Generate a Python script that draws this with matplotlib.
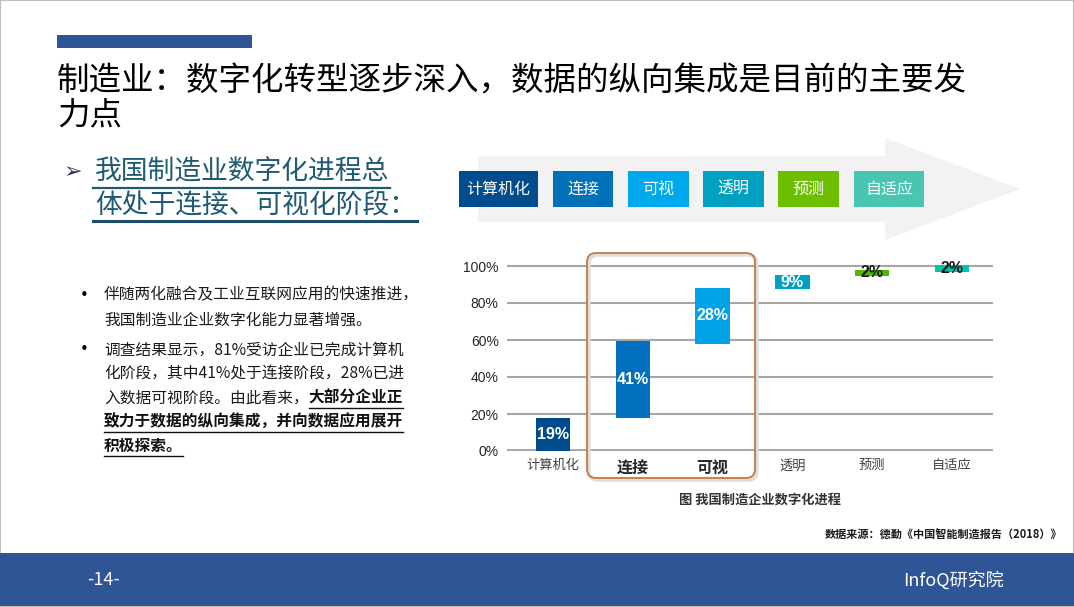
import matplotlib
matplotlib.use('Agg')
import matplotlib.pyplot as plt
from matplotlib.patches import Rectangle, FancyBboxPatch, Polygon
from matplotlib.lines import Line2D

plt.rcParams['font.family'] = ['Noto Sans CJK SC', 'DejaVu Sans']

# data
stages = ['计算机化', '连接', '可视', '透明', '预测', '自适应']
pct_labels = [19, 41, 28, 9, 2, 2]
bar_bottom = [0, 17.8, 58.0, 87.5, 94.6, 97.0]
bar_top = [17.8, 59.5, 88.0, 95.0, 98.0, 100.5]
yticks = [0, 20, 40, 60, 80, 100]
box_colors = ['#004C8C', '#0070B8', '#00A8EC', '#00A0C0', '#6BBF00', '#4AC5B1']
bar_colors = ['#004B8C', '#0070BF', '#00A3E8', '#00A0C3', '#4CB800', '#00C5A9']
label_colors = ['white', 'white', 'white', 'white', '#1a1a1a', '#1a1a1a']
highlight = ['连接', '可视']

W, H = 1074, 607
fig = plt.figure(figsize=(W / 100, H / 100), dpi=100)
fig.patch.set_facecolor('white')


def fx(x):
    return x / W


def fy(y):
    return 1 - y / H


# slide border
fig.patches.append(Rectangle((0, 0), 1, 1, transform=fig.transFigure, fill=False,
                             edgecolor='#BFBFBF', linewidth=1.5))

# top accent bar + title
fig.patches.append(Rectangle((fx(57), fy(48)), fx(195), 13 / H, transform=fig.transFigure,
                             facecolor='#2F5597', edgecolor='none'))
fig.text(fx(57), fy(82), '制造业：数字化转型逐步深入，数据的纵向集成是目前的主要发',
         fontsize=23.4, va='center', ha='left', color='black')
fig.text(fx(57), fy(115), '力点', fontsize=23.4, va='center', ha='left', color='black')

# left heading
head_col = '#1F5A73'
fig.text(fx(64), fy(172), '➢', family=['DejaVu Sans'], fontsize=16, va='center',
         ha='left', color='#3A3A55')
fig.text(fx(95), fy(172), '我国制造业数字化进程总', fontsize=19.3, style='italic',
         va='center', ha='left', color=head_col)
fig.text(fx(95), fy(205), '体处于连接、可视化阶段：', fontsize=19.3, style='italic',
         va='center', ha='left', color=head_col)
fig.lines.append(Line2D([fx(93), fx(390)], [fy(188), fy(188)], transform=fig.transFigure,
                        color=head_col, linewidth=1.6))
fig.lines.append(Line2D([fx(93), fx(417)], [fy(221), fy(221)], transform=fig.transFigure,
                        color='#1F4E69', linewidth=2.2))

# bullet text
bfs = 11.3
renderer = fig.canvas.get_renderer()
fig.text(fx(80), fy(295), '•', fontsize=10.5, va='center', ha='left', family=['DejaVu Sans'])
fig.text(fx(80), fy(350), '•', fontsize=10.5, va='center', ha='left', family=['DejaVu Sans'])
plain_lines = [(295, '伴随两化融合及工业互联网应用的快速推进，'),
               (320, '我国制造业企业数字化能力显著增强。'),
               (350, '调查结果显示，81%受访企业已完成计算机'),
               (374, '化阶段，其中41%处于连接阶段，28%已进')]
for y, s in plain_lines:
    fig.text(fx(104), fy(y), s, fontsize=bfs, va='center', ha='left', color='#1a1a1a')

t = fig.text(fx(104), fy(398), '入数据可视阶段。由此看来，', fontsize=bfs, va='center',
             ha='left', color='#1a1a1a')
x_end = t.get_window_extent(renderer).x1
emph = [(398, x_end, '大部分企业正'),
        (422, 104, '致力于数据的纵向集成，并向数据应用展开'),
        (446, 104, '积极探索。')]
for y, x0, s in emph:
    e = fig.text(x0 / W, fy(y), s, fontsize=bfs, style='italic', weight='bold',
                 va='center', ha='left', color='#111111')
    bb = e.get_window_extent(renderer)
    fig.lines.append(Line2D([bb.x0 / W, bb.x1 / W], [fy(y + 10), fy(y + 10)],
                            transform=fig.transFigure, color='#111111', linewidth=1.0))

# process arrow background
arrow_px = [(478, 156), (885, 156), (885, 138), (1020, 189), (885, 240), (885, 222), (478, 222)]
fig.patches.append(Polygon([(fx(x), fy(y)) for x, y in arrow_px], closed=True,
                           transform=fig.transFigure, facecolor='#F2F2F2', edgecolor='none'))
box_x = [(459, 538), (553, 613), (628, 689), (703, 764), (778, 839), (854, 924)]
for (x0, x1), name, c in zip(box_x, stages, box_colors):
    fig.patches.append(Rectangle((fx(x0), fy(207)), (x1 - x0) / W, 36 / H,
                                 transform=fig.transFigure, facecolor=c, edgecolor='none'))
    fig.text(fx((x0 + x1) / 2), fy(189), name, fontsize=11.5, color='white',
             ha='center', va='center')

# chart
ax = fig.add_axes([fx(507), fy(451), fx(486), 102 * 1.85 / H])
ax.set_xlim(-0.576, 5.514)
ax.set_ylim(0, 102)
for yv in yticks[1:]:
    ax.axhline(yv, color='#A6A6A6', linewidth=1.5, zorder=1)
ax.axhline(0, color='#A6A6A6', linewidth=3.5, zorder=1)
xs = range(len(stages))
heights = [t_ - b for b, t_ in zip(bar_bottom, bar_top)]
ax.bar(xs, heights, bottom=bar_bottom, width=0.43, color=bar_colors, zorder=2, clip_on=False)
for i, (b, h, p, lc) in enumerate(zip(bar_bottom, heights, pct_labels, label_colors)):
    ax.text(i, b + h / 2, f'{p}%', ha='center', va='center', color=lc, fontsize=11.5,
            weight='bold', family=['Liberation Sans'], zorder=3)
for s in ax.spines.values():
    s.set_visible(False)
ax.set_yticks(yticks)
ax.set_yticklabels([f'{v}%' for v in yticks], fontsize=10, color='#262626',
                   family=['Liberation Sans'])
ax.tick_params(axis='y', length=0, pad=6)
ax.set_xticks(list(xs))
ax.set_xticklabels(stages)
ax.tick_params(axis='x', length=0, pad=6)
for lab, name in zip(ax.get_xticklabels(), stages):
    if name in highlight:
        lab.set_fontsize(11.5)
        lab.set_fontweight('bold')
        lab.set_color('#262626')
    else:
        lab.set_fontsize(9.5)
        lab.set_color('#404040')
ax.patch.set_alpha(0)

# highlight frame
fig.patches.append(FancyBboxPatch((5.87 + 0.02, (607 - 478) / 100 - 0.02), 1.68, 2.25,
                                  boxstyle='round,pad=0,rounding_size=0.09',
                                  transform=fig.dpi_scale_trans, facecolor='none',
                                  edgecolor='#DDDDDD', linewidth=2.5, zorder=0))
fig.patches.append(FancyBboxPatch((5.87, (607 - 478) / 100), 1.68, 2.25,
                                  boxstyle='round,pad=0,rounding_size=0.09',
                                  transform=fig.dpi_scale_trans, facecolor='none',
                                  edgecolor='#C7773A', linewidth=1.3, zorder=5))

fig.text(fx(760), fy(500), '图 我国制造企业数字化进程', fontsize=9.5, weight='bold',
         ha='center', va='center', color='#333333')
fig.text(fx(1062), fy(535), '数据来源：德勤《中国智能制造报告（2018）》', fontsize=8,
         weight='bold', ha='right', va='center', color='#1a1a1a')

# footer
fig.patches.append(Rectangle((0, fy(606)), 1, 53 / H, transform=fig.transFigure,
                             facecolor='#2F5597', edgecolor='none'))
fig.text(fx(103), fy(580), '-14-', fontsize=13, color='white', ha='center', va='center')
fig.text(fx(953), fy(580), 'InfoQ研究院', fontsize=13, color='white', ha='center', va='center')

fig.savefig('out.png', dpi=100)
